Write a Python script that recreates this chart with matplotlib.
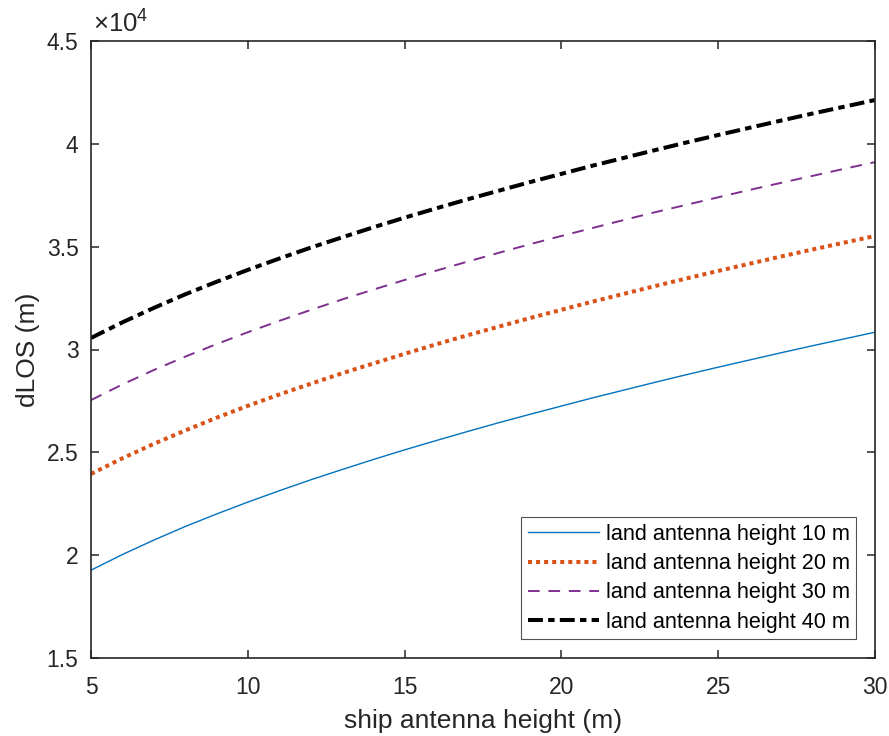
import matplotlib
matplotlib.use("Agg")
import matplotlib.pyplot as plt
from matplotlib.ticker import FuncFormatter

# ship antenna height (m)
ship_h = list(range(5, 31))

# dLOS (m), one list per land antenna height
dlos_10 = [19270, 20030, 20730, 21390, 22000, 22580, 23130, 23660, 24160, 24650,
           25120, 25570, 26010, 26440, 26850, 27250, 27650, 28030, 28410, 28780,
           29140, 29490, 29840, 30180, 30510, 30840]
dlos_20 = [23950, 24710, 25410, 26060, 26680, 27260, 27810, 28330, 28840, 29320,
           29790, 30250, 30690, 31110, 31530, 31930, 32330, 32710, 33090, 33460,
           33820, 34170, 34520, 34860, 35190, 35520]
dlos_30 = [27540, 28300, 29000, 29650, 30260, 30840, 31390, 31920, 32430, 32910,
           33380, 33830, 34270, 34700, 35120, 35520, 35910, 36300, 36680, 37040,
           37400, 37760, 38100, 38440, 38780, 39110]
dlos_40 = [30560, 31320, 32020, 32680, 33290, 33870, 34420, 34950, 35450, 35940,
           36410, 36860, 37300, 37720, 38140, 38540, 38940, 39320, 39700, 40070,
           40430, 40780, 41130, 41470, 41800, 42130]

labels = ['land antenna height 10 m', 'land antenna height 20 m',
          'land antenna height 30 m', 'land antenna height 40 m']
xticks = [5, 10, 15, 20, 25, 30]
yticks = [15000, 20000, 25000, 30000, 35000, 40000, 45000]

plt.rcParams['font.family'] = ['Liberation Sans', 'DejaVu Sans']
plt.rcParams['mathtext.fontset'] = 'custom'
plt.rcParams['mathtext.rm'] = 'Liberation Sans'
plt.rcParams['mathtext.it'] = 'Liberation Sans'
txt = '#262626'

fig = plt.figure(figsize=(8.89, 7.36), dpi=100)
ax = fig.add_axes([91/889, 78/736, 784/889, 617/736])

ax.plot(ship_h, dlos_10, color='#0072BD', lw=1.0, label=labels[0])
ax.plot(ship_h, dlos_20, color='#D95319', lw=2.9, ls=(0, (1, 1)), label=labels[1])
ax.plot(ship_h, dlos_30, color='#7E2F8E', lw=1.4, ls=(0, (6, 4.5)), label=labels[2])
ax.plot(ship_h, dlos_40, color='black', lw=2.9, ls=(0, (3.7, 1.3, 1.6, 1.3)), label=labels[3])

ax.set_xlim(5, 30)
ax.set_ylim(15000, 45000)
ax.set_xticks(xticks)
ax.set_yticks(yticks)
ax.yaxis.set_major_formatter(FuncFormatter(lambda v, p: '{:g}'.format(v / 1e4)))
ax.text(0.002, 1.006, r'$\times10^{4}$', transform=ax.transAxes, fontsize=18.5,
        color=txt, ha='left', va='bottom')

ax.tick_params(direction='in', length=6, width=1.1, top=True, right=True,
               labelsize=16.5, colors=txt)
ax.tick_params(axis='y', pad=9)
ax.tick_params(axis='x', pad=13)
for s in ax.spines.values():
    s.set_linewidth(1.2)
    s.set_color(txt)

ax.set_xlabel('ship antenna height (m)', fontsize=19, color=txt, labelpad=7)
ax.set_ylabel('dLOS (m)', fontsize=19, color=txt, labelpad=5)

leg = ax.legend(loc='lower right', fontsize=15.6, frameon=True, fancybox=False,
                handlelength=3.3, labelspacing=0.38, borderpad=0.3,
                handletextpad=0.3, borderaxespad=0.87)
leg.get_frame().set_edgecolor(txt)
leg.get_frame().set_linewidth(0.8)
for t in leg.get_texts():
    t.set_color('black')

fig.savefig('out.png', dpi=100)
